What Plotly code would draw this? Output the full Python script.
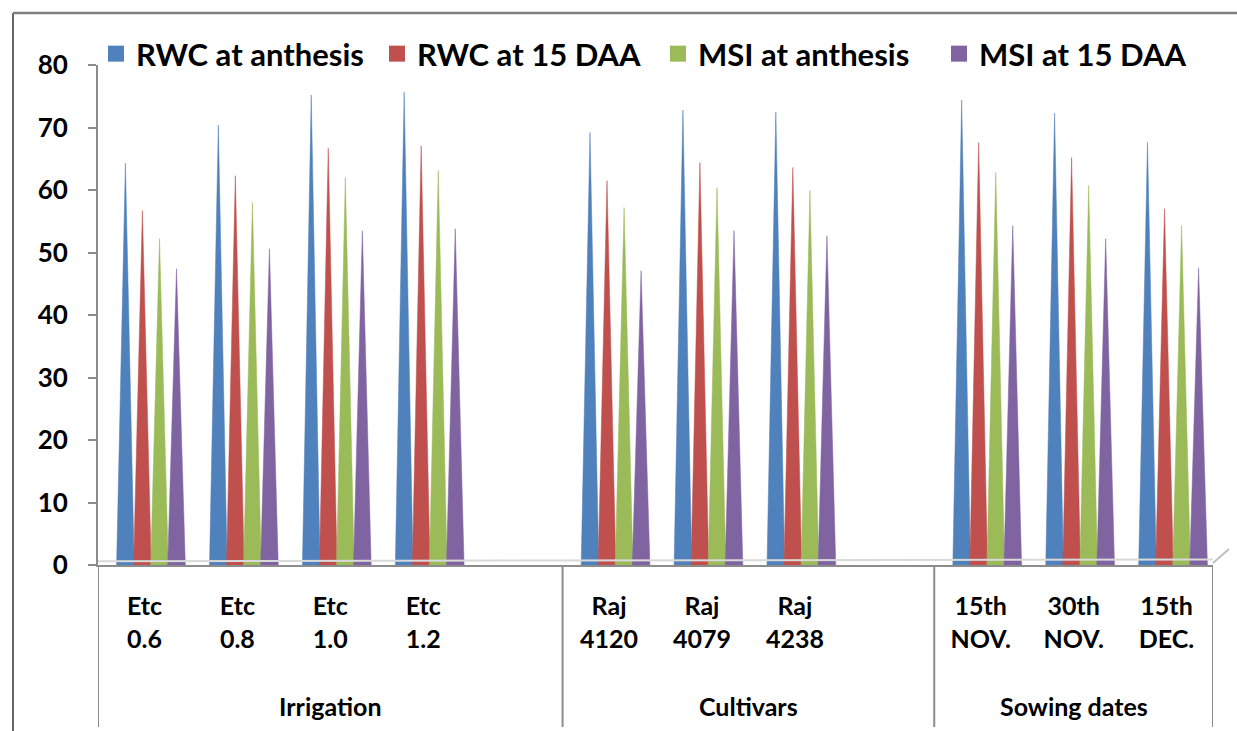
import plotly.graph_objects as go

# ---- data ----
groups = ["Irrigation", "Cultivars", "Sowing dates"]
group_sizes = [4, 3, 3]
categories = ["Etc 0.6", "Etc 0.8", "Etc 1.0", "Etc 1.2",
              "Raj 4120", "Raj 4079", "Raj 4238",
              "15th NOV.", "30th NOV.", "15th DEC."]
series_names = ["RWC at anthesis", "RWC at 15 DAA", "MSI at anthesis", "MSI at 15 DAA"]
rwc_anthesis = [64.3, 70.4, 75.2, 75.7, 69.2, 72.8, 72.5, 74.4, 72.3, 67.6]
rwc_15daa = [56.7, 62.3, 66.7, 67.1, 61.5, 64.4, 63.6, 67.6, 65.2, 57.0]
msi_anthesis = [52.2, 58.0, 62.0, 63.1, 57.2, 60.4, 59.9, 62.8, 60.7, 54.3]
msi_15daa = [47.4, 50.6, 53.5, 53.8, 47.1, 53.5, 52.7, 54.3, 52.2, 47.5]
y_ticks = [0, 10, 20, 30, 40, 50, 60, 70, 80]

series = [rwc_anthesis, rwc_15daa, msi_anthesis, msi_15daa]
colors = ["#4F81BD", "#C0504D", "#9BBB59", "#8064A2"]

# slot positions: one empty slot after each of the first two groups
slots = []
group_bounds = []
s = 0
for gi, n in enumerate(group_sizes):
    start = s
    for _ in range(n):
        slots.append(s)
        s += 1
    if gi < len(group_sizes) - 1:
        s += 1
    group_bounds.append((start - 0.5, s - 0.5))
n_slots = s

FONT = "Lato, Carlito, Calibri, Arial, sans-serif"

fig = go.Figure()
offsets = [-0.275, -0.092, 0.092, 0.275]
shift = 0.07
hw = 0.095
for k, (name, vals, col) in enumerate(zip(series_names, series, colors)):
    xs, ys = [], []
    for pos, v in zip(slots, vals):
        xc = pos + offsets[k] + shift
        xs += [xc - hw, xc, xc + hw, xc - hw, None]
        ys += [0, v, 0, 0, None]
    fig.add_trace(go.Scatter(x=xs, y=ys, mode="lines", fill="toself",
                             fillcolor=col, line=dict(width=0.5, color=col),
                             name=name, showlegend=False, legendgroup=name,
                             hoverinfo="skip"))
    fig.add_trace(go.Scatter(x=[None], y=[None], mode="markers",
                             marker=dict(symbol="square", size=19, color=col),
                             name=name, legendgroup=name, showlegend=True))

# layout pixel geometry
W, H = 1237, 731
L, R, T, B = 98, 24, 65, 166
pw, ph = W - L - R, H - T - B

def px_x(px):
    return (px - L) / pw

def px_y(py):
    return (H - B - py) / ph

shapes = []
# outer chart border (left and top)
shapes.append(dict(type="line", xref="paper", yref="paper",
                   x0=px_x(13), x1=px_x(13), y0=px_y(13), y1=px_y(740),
                   line=dict(color="#333333", width=1.5)))
shapes.append(dict(type="line", xref="paper", yref="paper",
                   x0=px_x(13), x1=px_x(1245), y0=px_y(13), y1=px_y(13),
                   line=dict(color="#808080", width=2.5)))
# floor line with slanted right end
shapes.append(dict(type="line", xref="x", yref="y",
                   x0=-0.5, x1=n_slots - 0.5, y0=0.6, y1=0.9,
                   line=dict(color="#D9D9D9", width=2)))
shapes.append(dict(type="line", xref="paper", yref="paper",
                   x0=px_x(1213), x1=px_x(1229), y0=px_y(563), y1=px_y(549),
                   line=dict(color="#BFBFBF", width=2)))
# group dividers (including left axis extension)
div_bottom = px_y(727)
for xpos in [-0.5] + [b[1] for b in group_bounds]:
    shapes.append(dict(type="line", xref="x", yref="paper",
                       x0=xpos, x1=xpos, y0=0, y1=div_bottom,
                       line=dict(color="#8C8C8C", width=2)))

annotations = []
for gname, (a, b) in zip(groups, group_bounds):
    annotations.append(dict(x=(a + b) / 2, xref="x", y=px_y(706), yref="paper",
                            text=gname, showarrow=False,
                            font=dict(family=FONT, size=25, color="black", weight="bold"),
                            xanchor="center", yanchor="middle"))

fig.update_layout(
    width=W, height=H,
    margin=dict(l=L, r=R, t=T, b=B),
    paper_bgcolor="white", plot_bgcolor="white",
    shapes=shapes, annotations=annotations,
    legend=dict(orientation="h", x=px_x(96), xanchor="left", y=px_y(27), yanchor="top",
                font=dict(family=FONT, size=31, color="black", weight="bold"),
                itemwidth=30, entrywidth=236, entrywidthmode="pixels",
                tracegroupgap=0, bgcolor="rgba(0,0,0,0)"),
    xaxis=dict(range=[-0.5, n_slots - 0.5], tickmode="array",
               tickvals=slots, ticktext=[c.replace(" ", "<br>") for c in categories],
               ticks="", showline=True, linecolor="#8C8C8C", linewidth=2,
               showgrid=False, zeroline=False, ticklabelstandoff=18,
               tickfont=dict(family=FONT, size=25, color="black", weight="bold"),
               fixedrange=True),
    yaxis=dict(range=[0, 80], tickmode="array", tickvals=y_ticks,
               ticks="outside", ticklen=8, tickcolor="#8C8C8C", tickwidth=2,
               showline=True, linecolor="#8C8C8C", linewidth=2,
               showgrid=False, zeroline=False, ticklabelstandoff=15,
               tickfont=dict(family=FONT, size=26, color="black", weight="bold"),
               fixedrange=True),
)

fig.write_html("out.html", config={"displayModeBar": False},
               post_script="document.body.style.margin='0';document.body.style.overflow='hidden';")
